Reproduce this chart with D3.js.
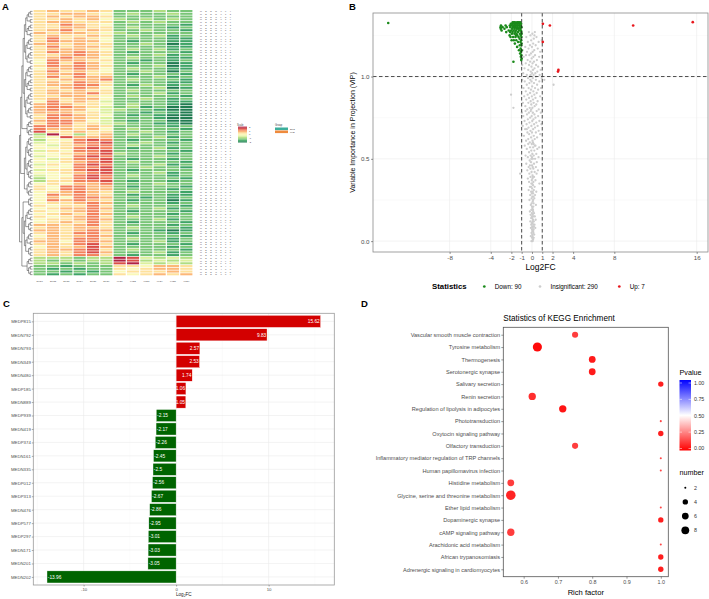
<!DOCTYPE html>
<html><head><meta charset="utf-8">
<script src="https://cdn.jsdelivr.net/npm/d3@7/dist/d3.min.js"></script>
<style>
html,body{margin:0;padding:0;background:#fff}
svg{display:block}
</style></head><body>
<svg id="fig" width="709" height="599"></svg>
<script>
const FONT = '"Liberation Sans", Arial, Helvetica, sans-serif';

/* ---------------- Panel A data (heatmap) ---------------- */
const heatSamples = ["EPS1","EPS2","EPS3","EPS4","EPS5","EPS6","KLB1","KLB2","KLB3","KLB4","KLB5","KLB6"];
// each row: 12 colour codes 0..a (0 = dark green, 5 = pale yellow, a = dark red)
const heatRows = [
"676676222322","667765232232","676776222222","667675323232","677666232322","668765222221",
"667766232212","678676223221","767765322222","676676232312","686765222211","687775212211",
"776766223201","686776222211","677765232312","687876212221","667876222312","678775232211",
"587766221212","586875212201","687876222301","577875232211","686765223202","677866212221",
"686877222312","667778232221","676876222211","677886213212","667875222301","676766232222",
"677786222312","667765232221","676775223212","586764222211","787665232210","788764231200",
"787754322100","777664221210","688765212100","687764222100","788754212200","688664322110",
"887676222212","877675232221","966766223212","3a6367232222","459777222312","355898212221",
"456889223212","546788232222","556898212312","465889222221","556789322212","455898222322",
"546889212212","556789232221","465898222312","555889223221","466899212222","556789222312",
"455898232212","356898222221","366889212212","565778222322","658877212221","658877222212",
"567876232221","587876212211","575887221212","587876212201","566787222212","656686232221",
"567787222312","656786212221","567687222212","656786232222","566787222312","567686212221",
"776786222212","676776232221","776787222101","676886212212","576787222221","676886232212",
"775887222312","676896212221","576797222212","677896232221","676897222312","676886212212",
"333233a94343","323233a93434","3323239a4343","221222665776","212122656776","221212566676",
"212122656767"];
const heatIds = ("MEDN004 MEDN012 MEDP939 MEDN019 MEDN027 MEDN033 MEDN041 MEDN058 MEDN419 MEDN066 " +
"MEDN072 MEDN085 MEDN093 MEDP374 MEDN104 MEDN112 MEDN127 MEDN138 MEDN161 MEDN145 MEDN153 MEDN168 " +
"MEDN177 MEDN335 MEDN184 MEDN196 MEDN208 MEDN215 MEDP012 MEDN223 MEDN236 MEDN244 MEDN259 MEDP313 " +
"MEDN263 MEDN278 MEDN286 MEDN291 MEDN476 MEDN307 MEDN314 MEDN322 MEDN338 MEDP577 MEDN356 MEDN367 " +
"MEDN372 MEDN385 MEDP297 MEDN398 MEDN403 MEDN427 MEDN436 MEDN171 MEDN445 MEDN458 MEDN463 MEDN489 " +
"MEDN201 MEDN497 MEDN502 MEDN516 MEDN525 MEDN202 MEDN531 MEDN547 MEDN553 MEDN568 MEDN574 MEDN589 " +
"MEDN596 MEDP021 MEDP038 MEDP046 MEDP059 MEDP067 MEDP083 MEDP098 MEDP116 MEDP124 MEDP137 MEDP149 " +
"MEDP162 MEDP178 MEDP203 MEDP219 MEDP226 MEDP241 MEDP258 MEDP264 " +
"MEDN792 MEDN793 MEDP815 MEDN349 MEDN480 MEDP185 MEDN889").split(" ");
const heatScaleTicks = ["2","1","0","-1","-2"];
const heatGroups = ["EPS","KLB"];
const heatGroupColors = ["#3BAE9B","#EF8A3C"];
const dendroGroups = [40,6,16,6,4,18,3,4];

/* ---------------- Panel B data (volcano) ---------------- */
const volcanoBreaks = [-8,-4,-2,-1,0,1,2,4,8,16];
const upPts = [[15.62,1.33],[9.83,1.31],[2.57,1.04],[2.53,1.03],[1.74,1.31],[1.06,1.32],[1.05,1.21]];
const downPts = [[-13.96,1.325],[-3.05,1.30],[-3.03,1.29],[-3.01,1.31],[-2.95,1.28],[-2.86,1.30],[-2.67,1.29],
[-2.56,1.31],[-2.5,1.27],[-2.45,1.30],[-2.26,1.28],[-2.17,1.25],[-2.15,1.31],
[-2.10,1.30],[-2.05,1.32],[-2.02,1.28],[-1.98,1.31],[-1.95,1.26],[-1.92,1.29],[-1.90,1.32],[-1.88,1.27],
[-1.85,1.30],[-1.83,1.24],[-1.80,1.31],[-1.78,1.28],[-1.76,1.22],[-1.74,1.30],[-1.72,1.32],[-1.70,1.26],
[-1.68,1.29],[-1.66,1.20],[-1.64,1.31],[-1.62,1.27],[-1.60,1.24],[-1.58,1.30],[-1.56,1.32],[-1.54,1.28],
[-1.52,1.22],[-1.50,1.26],[-1.48,1.31],[-1.46,1.29],[-1.44,1.18],[-1.42,1.25],[-1.40,1.30],[-1.38,1.32],
[-1.36,1.27],[-1.34,1.21],[-1.32,1.29],[-1.30,1.24],[-1.28,1.31],[-1.26,1.16],[-1.24,1.28],[-1.22,1.32],
[-1.20,1.23],[-1.19,1.30],[-1.18,1.19],[-1.16,1.26],[-1.15,1.14],[-1.14,1.29],[-1.12,1.31],[-1.11,1.21],
[-1.10,1.17],[-1.09,1.25],[-1.08,1.12],[-1.07,1.28],[-1.06,1.15],[-1.05,1.32],[-1.05,1.22],[-1.04,1.19],
[-1.04,1.10],[-1.03,1.27],[-1.03,1.13],[-1.02,1.24],[-1.02,1.30],[-1.01,1.16],[-1.01,1.20],[-1.00,1.11],
[-1.00,1.26],[-1.8,1.09],[-2.12,1.27],[-2.08,1.24],[-1.97,1.22],[-1.87,1.33],[-1.75,1.33],[-1.65,1.33],
[-1.55,1.25],[-1.45,1.33],[-1.35,1.33],[-1.25,1.33],[-1.13,1.33]];
const insigPts = [
[-0.85,1.02],[-0.80,1.12],[-0.72,1.05],[-0.65,1.18],[-0.60,1.08],[-0.55,1.24],[-0.50,1.01],[-0.48,1.15],
[-0.42,1.10],[-0.40,1.21],[-0.36,1.04],[-0.33,1.17],[-0.30,1.27],[-0.28,1.07],[-0.25,1.13],[-0.22,1.00],
[-0.20,1.19],[-0.18,1.09],[-0.15,1.25],[-0.12,1.03],[-0.10,1.14],[-0.08,1.22],[-0.05,1.06],[-0.03,1.11],
[0.00,1.18],[0.02,1.02],[0.04,1.26],[0.06,1.08],[0.08,1.15],[0.10,1.04],[0.12,1.20],[0.14,1.12],
[0.16,1.01],[0.18,1.23],[0.20,1.09],[0.22,1.16],[0.25,1.05],[0.28,1.27],[0.30,1.13],[0.33,1.02],
[0.36,1.19],[0.40,1.07],[0.44,1.24],[0.48,1.10],[0.52,1.03],[0.56,1.17],[0.60,1.06],[0.65,1.21],
[0.70,1.12],[0.75,1.01],[0.80,1.15],[0.85,1.04],[0.90,1.09],[0.95,1.22],[-0.90,1.16],[-0.95,1.07],
[-0.58,1.13],[0.38,1.00],[-0.13,1.01],[0.24,1.25],
[-0.95,0.98],[-0.88,0.84],[-0.82,0.93],[-0.75,0.88],[-0.70,0.97],[-0.64,0.82],[-0.60,0.91],[-0.55,0.86],
[-0.50,0.95],[-0.46,0.80],[-0.42,0.89],[-0.38,0.99],[-0.35,0.84],[-0.32,0.93],[-0.28,0.87],[-0.25,0.96],
[-0.22,0.81],[-0.19,0.90],[-0.16,0.98],[-0.13,0.85],[-0.10,0.92],[-0.07,0.83],[-0.04,0.97],[-0.01,0.88],
[0.02,0.94],[0.05,0.81],[0.08,0.99],[0.11,0.86],[0.14,0.91],[0.17,0.84],[0.20,0.96],[0.23,0.89],
[0.26,0.82],[0.30,0.93],[0.34,0.87],[0.38,0.98],[0.42,0.83],[0.46,0.90],[0.50,0.95],[0.55,0.85],
[0.60,0.92],[0.66,0.80],[0.72,0.97],[0.80,0.88],[0.88,0.93],[0.95,0.99],[-2.03,0.89],[-1.80,0.81],
[2.10,0.95],[1.20,0.98],
[-0.98,0.78],[-0.90,0.70],[-0.84,0.76],[-0.78,0.64],[-0.72,0.73],[-0.66,0.68],[-0.62,0.79],[-0.57,0.61],
[-0.52,0.71],[-0.48,0.77],[-0.44,0.66],[-0.40,0.74],[-0.36,0.62],[-0.33,0.69],[-0.30,0.78],[-0.27,0.65],
[-0.24,0.72],[-0.21,0.60],[-0.18,0.75],[-0.15,0.67],[-0.12,0.79],[-0.09,0.63],[-0.06,0.70],[-0.03,0.76],
[0.00,0.66],[0.03,0.73],[0.06,0.61],[0.09,0.78],[0.12,0.68],[0.15,0.74],[0.18,0.64],[0.21,0.71],
[0.24,0.77],[0.27,0.62],[0.30,0.69],[0.34,0.75],[0.38,0.66],[0.42,0.72],[0.46,0.79],[0.50,0.63],
[0.55,0.70],[0.60,0.76],[0.65,0.67],[0.72,0.73],[0.80,0.65],[0.86,0.78],[0.92,0.71],[-0.08,0.80],
[0.10,0.60],[-0.50,0.68],
[-0.70,0.58],[-0.62,0.52],[-0.55,0.47],[-0.50,0.56],[-0.45,0.43],[-0.40,0.51],[-0.36,0.59],[-0.32,0.45],
[-0.28,0.54],[-0.25,0.41],[-0.22,0.49],[-0.19,0.57],[-0.16,0.44],[-0.13,0.52],[-0.10,0.48],[-0.07,0.55],
[-0.04,0.42],[-0.02,0.59],[0.01,0.46],[0.04,0.53],[0.06,0.40],[0.09,0.50],[0.12,0.57],[0.14,0.44],
[0.17,0.52],[0.20,0.47],[0.23,0.55],[0.26,0.42],[0.30,0.50],[0.34,0.58],[0.38,0.45],[0.42,0.53],
[0.47,0.48],[0.52,0.56],[0.58,0.43],[0.64,0.51],[0.70,0.57],[-1.15,0.41],[0.00,0.51],[0.08,0.45],
[-0.05,0.50],[0.16,0.59],[-0.20,0.46],[0.28,0.58],[0.45,0.41],
[-0.40,0.38],[-0.32,0.31],[-0.28,0.36],[-0.24,0.25],[-0.20,0.33],[-0.17,0.28],[-0.14,0.39],[-0.11,0.22],
[-0.08,0.30],[-0.06,0.35],[-0.04,0.26],[-0.02,0.37],[0.00,0.21],[0.02,0.32],[0.04,0.27],[0.06,0.38],
[0.08,0.24],[0.10,0.34],[0.12,0.29],[0.14,0.36],[0.16,0.23],[0.18,0.31],[0.20,0.39],[0.23,0.26],
[0.26,0.33],[0.30,0.28],[0.34,0.37],[0.38,0.22],[0.42,0.30],[0.72,0.35],[0.05,0.20],[-0.01,0.29],
[0.11,0.25],[0.03,0.35],[-0.09,0.33],[0.07,0.30],[0.13,0.21],[0.09,0.39],[-0.03,0.23],[0.15,0.27],
[-0.20,0.18],[-0.16,0.12],[-0.13,0.16],[-0.10,0.08],[-0.08,0.14],[-0.06,0.19],[-0.04,0.05],[-0.02,0.11],
[0.00,0.17],[0.01,0.02],[0.02,0.09],[0.03,0.14],[0.04,0.06],[0.05,0.19],[0.06,0.12],[0.07,0.03],
[0.08,0.16],[0.09,0.08],[0.10,0.13],[0.11,0.01],[0.12,0.18],[0.13,0.10],[0.14,0.05],[0.15,0.15],
[0.16,0.07],[0.18,0.12],[0.20,0.17],[0.22,0.04],[0.25,0.10],[0.28,0.15],[0.32,0.08],[0.36,0.13],
[-0.05,0.00],[0.00,0.07],[0.06,0.00],[0.03,0.04],[-0.01,0.15],[0.09,0.01],[0.12,0.06],[-0.11,0.03],
[0.17,0.02],[0.07,0.11],[0.19,0.09],[-0.07,0.10],[0.10,0.19]];

/* ---------------- Panel C data (top 20 bar) ---------------- */
const barIds = ["MEDP815","MEDN792","MEDN793","MEDN349","MEDN480","MEDP185","MEDN889","MEDP939","MEDN419","MEDP374",
"MEDN161","MEDN335","MEDP012","MEDP313","MEDN476","MEDP577","MEDP297","MEDN171","MEDN201","MEDN202"];
const barFC = [15.62,9.83,2.57,2.53,1.74,1.06,1.05,-2.15,-2.17,-2.26,-2.45,-2.5,-2.56,-2.67,-2.86,-2.95,-3.01,-3.03,-3.05,-13.96];
const barTicks = [-10,0,10];

/* ---------------- Panel D data (KEGG) ---------------- */
const keggTerms = ["Vascular smooth muscle contraction","Tyrosine metabolism","Thermogenesis","Serotonergic synapse",
"Salivary secretion","Renin secretion","Regulation of lipolysis in adipocytes","Phototransduction",
"Oxytocin signaling pathway","Olfactory transduction","Inflammatory mediator regulation of TRP channels",
"Human papillomavirus infection","Histidine metabolism","Glycine, serine and threonine metabolism",
"Ether lipid metabolism","Dopaminergic synapse","cAMP signaling pathway","Arachidonic acid metabolism",
"African trypanosomiasis","Adrenergic signaling in cardiomyocytes"];
const keggRich = [0.75,0.64,0.8,0.8,1,0.625,0.714,1,1,0.75,1,1,0.5625,0.5625,1,1,0.5625,1,1,1];
const keggNumber = [5,11,6,6,4,7,7,2,4,5,2,2,6,12,2,4,7,2,4,4];
const keggP = [0.12,0.02,0.05,0.05,0.06,0.09,0.04,0.14,0.06,0.12,0.14,0.14,0.12,0.07,0.14,0.06,0.12,0.14,0.06,0.06];
const keggXTicks = [0.6,0.7,0.8,0.9,1.0];
const pLegendTicks = [0,0.25,0.5,0.75,1];
const numLegend = [2,4,6,8];

/* ======================================================= */
const svg = d3.select("#fig").style("font-family", FONT);
const txt = (g, x, y, s, fs, opt = {}) => g.append("text").attr("x", x).attr("y", y).text(s)
  .style("font-size", fs + "px").attr("fill", opt.fill || "#000")
  .attr("text-anchor", opt.anchor || "start").attr("font-weight", opt.bold ? "bold" : null);

/* ---------- Panel letters ---------- */
txt(svg, 2, 10, "A", 9.5, {bold: true});
txt(svg, 349, 10, "B", 9.5, {bold: true});
txt(svg, 3, 307, "C", 9.5, {bold: true});
txt(svg, 361, 307, "D", 9.5, {bold: true});

/* ---------- Panel A ---------- */
{
  const gA = svg.append("g");
  const hx = d3.scaleBand().domain(d3.range(heatSamples.length)).range([33, 193]);
  const hy = d3.scaleBand().domain(d3.range(heatRows.length)).range([10, 276]);
  const code = ch => parseInt(ch, 16);
  const soften = d3.interpolateRgb.gamma(1);
  const hcol = v => soften(d3.interpolateRdYlGn(1 - v / 10), "#ffffff")(0.13);
  heatRows.forEach((row, r) => {
    for (let c = 0; c < heatSamples.length; c++) {
      gA.append("rect").attr("x", hx(c) + 0.6).attr("y", hy(r))
        .attr("width", hx.bandwidth() - 1.2).attr("height", hy.bandwidth() - 0.7)
        .attr("fill", hcol(code(row[c])));
    }
  });
  // row labels
  heatIds.forEach((id, r) => {
    txt(gA, 200, hy(r) + hy.bandwidth() / 2 + 0.8, id, 2.2, {fill: "#555"})
      .attr("textLength", 31).attr("lengthAdjust", "spacing");
  });
  // column labels
  heatSamples.forEach((s, c) => txt(gA, hx(c) + hx.bandwidth() / 2, 281.5, s, 2.4, {fill: "#555", anchor: "middle"}));
  // dendrogram
  const leafY = i => hy(i) + hy.bandwidth() / 2;
  const dNodes = [];
  const join = (L, R) => { const n = {y: (L.y + R.y) / 2, h: Math.max(L.h, R.h) + 1, L, R}; dNodes.push(n); return n; };
  const mk = (a, b) => b - a === 1 ? {y: leafY(a), h: 0} : join(mk(a, a + Math.ceil((b - a) / 2)), mk(a + Math.ceil((b - a) / 2), b));
  let st = 0;
  let roots = dendroGroups.map(s => { const r = mk(st, st + s); st += s; return r; });
  while (roots.length > 1) {
    const nx = [];
    for (let i = 0; i < roots.length; i += 2) nx.push(i + 1 < roots.length ? join(roots[i], roots[i + 1]) : roots[i]);
    roots = nx;
  }
  const maxH = d3.max(dNodes, d => d.h);
  const dx = d3.scalePow().exponent(0.8).domain([0, maxH]).range([32.5, 19.5]);
  dNodes.forEach(n => {
    gA.append("path").attr("fill", "none").attr("stroke", "#333").attr("stroke-width", 0.5)
      .attr("d", `M${dx(n.L.h)},${n.L.y}H${dx(n.h)}V${n.R.y}H${dx(n.R.h)}`);
  });
  // legend: colour scale
  const lg = gA.append("g");
  txt(lg, 237, 125.5, "Scale", 2.6, {fill: "#444"});
  const ly = d3.scaleLinear().domain([0, 10]).range([142, 127]);
  d3.range(0, 10.01, 0.5).forEach(v => lg.append("rect").attr("x", 238).attr("y", ly(v) - 0.4)
    .attr("width", 9).attr("height", 0.9).attr("fill", hcol(v)));
  heatScaleTicks.forEach((t, i) => txt(lg, 249, ly(10 - i * 2.5) + 0.8, t, 2.4, {fill: "#444"}));
  // legend: groups
  txt(lg, 275, 125.5, "Group", 2.6, {fill: "#444"});
  heatGroups.forEach((g, i) => {
    lg.append("rect").attr("x", 275).attr("y", 127.5 + i * 3).attr("width", 13).attr("height", 2.6).attr("fill", heatGroupColors[i]);
    txt(lg, 290, 129.8 + i * 3, g, 2.4, {fill: "#444"});
  });
}

/* ---------- Panel B ---------- */
{
  const gB = svg.append("g");
  const L = 373, R = 708, T = 13, B = 252;
  const bx = d3.scaleLinear().domain([-15.44, 17.1]).range([L, R]);
  const by = d3.scaleLinear().domain([-0.066, 1.386]).range([B, T]);
  // grid
  [0.25, 0.75, 1.25].forEach(v => gB.append("line").attr("x1", L).attr("x2", R).attr("y1", by(v)).attr("y2", by(v)).attr("stroke", "#F3F3F3").attr("stroke-width", 0.4));
  [0, 0.5, 1].forEach(v => gB.append("line").attr("x1", L).attr("x2", R).attr("y1", by(v)).attr("y2", by(v)).attr("stroke", "#EBEBEB").attr("stroke-width", 0.6));
  volcanoBreaks.forEach(v => gB.append("line").attr("y1", T).attr("y2", B).attr("x1", bx(v)).attr("x2", bx(v)).attr("stroke", "#EBEBEB").attr("stroke-width", 0.6));
  // points
  const pt = (data, col, r) => gB.append("g").selectAll("circle").data(data).join("circle")
    .attr("cx", d => bx(d[0])).attr("cy", d => by(d[1])).attr("r", r).attr("fill", col);
  pt(insigPts, "#CDCDCD", 1.15);
  pt(downPts, "#1B8A1B", 1.3);
  pt(upPts, "#E8161C", 1.35);
  // dashed thresholds
  [-1, 1].forEach(v => gB.append("line").attr("x1", bx(v)).attr("x2", bx(v)).attr("y1", T).attr("y2", B)
    .attr("stroke", "#222").attr("stroke-width", 0.8).attr("stroke-dasharray", "3.5,2.5"));
  gB.append("line").attr("x1", L).attr("x2", R).attr("y1", by(1)).attr("y2", by(1))
    .attr("stroke", "#222").attr("stroke-width", 0.8).attr("stroke-dasharray", "3.5,2.5");
  gB.append("rect").attr("x", L).attr("y", T).attr("width", R - L).attr("height", B - T)
    .attr("fill", "none").attr("stroke", "#8A8A8A").attr("stroke-width", 0.8);
  // axes
  const ax = gB.append("g").attr("transform", `translate(0,${B})`)
    .call(d3.axisBottom(bx).tickValues(volcanoBreaks).tickSize(2).tickPadding(1.5).tickFormat(d => String(d)));
  const ay = gB.append("g").attr("transform", `translate(${L},0)`)
    .call(d3.axisLeft(by).tickValues([0, 0.5, 1]).tickSize(2).tickPadding(1.5).tickFormat(d3.format(".1f")));
  [ax, ay].forEach(a => { a.select(".domain").remove();
    a.selectAll(".tick line").attr("stroke", "#333").attr("stroke-width", 0.5);
    a.selectAll(".tick text").attr("fill", "#4D4D4D").style("font-size", "6.2px").style("font-family", FONT); });
  txt(gB, (L + R) / 2, 269.5, "Log2FC", 8.5, {anchor: "middle"});
  txt(gB, 0, 0, "Variable Importance in Projection (VIP)", 7, {anchor: "middle"})
    .attr("transform", `translate(354.5,${(T + B) / 2}) rotate(-90)`);
  // legend
  txt(gB, 432, 289, "Statistics", 7.8, {bold: true});
  const leg = [["Down: " + downPts.length, "#1B8A1B", 484.3], ["Insignificant: " + insigPts.length, "#CDCDCD", 540], ["Up: " + upPts.length, "#E8161C", 619.3]];
  leg.forEach(([t, c, x]) => {
    gB.append("circle").attr("cx", x).attr("cy", 286.5).attr("r", 1.35).attr("fill", c);
    txt(gB, x + 10.5, 288.7, t, 6.3);
  });
}

/* ---------- Panel C ---------- */
{
  const gC = svg.append("g");
  const L = 33.3, R = 334.3, T = 313.3, B = 585;
  const cx = d3.scaleLinear().domain([-15.44, 17.1]).range([L, R]);
  const cy = d3.scalePoint().domain(barIds).range([T, B]).padding(0.6);
  const bh = cy.step() * 0.9;
  [-15, -5, 5, 15].forEach(v => gC.append("line").attr("x1", cx(v)).attr("x2", cx(v)).attr("y1", T).attr("y2", B).attr("stroke", "#F4F4F4").attr("stroke-width", 0.4));
  barTicks.forEach(v => gC.append("line").attr("x1", cx(v)).attr("x2", cx(v)).attr("y1", T).attr("y2", B).attr("stroke", "#EBEBEB").attr("stroke-width", 0.6));
  barIds.forEach(id => gC.append("line").attr("x1", L).attr("x2", R).attr("y1", cy(id)).attr("y2", cy(id)).attr("stroke", "#EBEBEB").attr("stroke-width", 0.6));
  barIds.forEach((id, i) => {
    const v = barFC[i];
    gC.append("rect").attr("x", Math.min(cx(0), cx(v))).attr("y", cy(id) - bh / 2)
      .attr("width", Math.abs(cx(v) - cx(0))).attr("height", bh)
      .attr("fill", v > 0 ? "#D30000" : "#006400").attr("stroke", "#fff").attr("stroke-width", 0.4);
    txt(gC, v > 0 ? cx(v) - 0.8 : cx(v) + 0.8, cy(id) + 1.7, String(v), 4.8, {fill: "#fff", anchor: v > 0 ? "end" : "start"});
  });
  gC.append("rect").attr("x", L).attr("y", T).attr("width", R - L).attr("height", B - T)
    .attr("fill", "none").attr("stroke", "#9A9A9A").attr("stroke-width", 0.8);
  const ax = gC.append("g").attr("transform", `translate(0,${B})`)
    .call(d3.axisBottom(cx).tickValues(barTicks).tickSize(1.5).tickPadding(1).tickFormat(d => String(d)));
  const ay = gC.append("g").attr("transform", `translate(${L},0)`)
    .call(d3.axisLeft(cy).tickSize(1.5).tickPadding(1));
  [ax, ay].forEach(a => { a.select(".domain").remove();
    a.selectAll(".tick line").attr("stroke", "#333").attr("stroke-width", 0.4);
    a.selectAll(".tick text").attr("fill", "#4D4D4D").style("font-size", "4.3px").style("font-family", FONT); });
  const xl = txt(gC, (L + R) / 2, 595.5, "Log", 4.6, {anchor: "middle", fill: "#222"});
  xl.append("tspan").text("2").attr("dy", 1).style("font-size", "3.4px");
  xl.append("tspan").text("FC").attr("dy", -1);
}

/* ---------- Panel D ---------- */
{
  const gD = svg.append("g");
  const L = 503.3, R = 668.3, T = 327.3, B = 576.7;
  const kx = d3.scaleLinear().domain([0.5406, 1.0219]).range([L, R]);
  const ky = d3.scalePoint().domain(keggTerms).range([T, B]).padding(0.6);
  const pcol = d3.scaleLinear().domain([0, 0.5, 1]).range(["#FF0000", "#FFFFFF", "#0000FF"]);
  const rad = n => 0.78 * (1.3 + 4.8 * Math.sqrt(Math.max(0, n - 2) / 10));
  gD.append("rect").attr("x", L).attr("y", T).attr("width", R - L).attr("height", B - T)
    .attr("fill", "#fff").attr("stroke", "#555").attr("stroke-width", 0.8);
  keggTerms.forEach((t, i) => gD.append("circle").attr("cx", kx(keggRich[i])).attr("cy", ky(t))
    .attr("r", rad(keggNumber[i])).attr("fill", pcol(keggP[i])));
  const ax = gD.append("g").attr("transform", `translate(0,${B})`)
    .call(d3.axisBottom(kx).tickValues(keggXTicks).tickSize(2).tickPadding(1.5).tickFormat(d3.format(".1f")));
  const ay = gD.append("g").attr("transform", `translate(${L},0)`)
    .call(d3.axisLeft(ky).tickSize(2).tickPadding(1.2));
  [ax, ay].forEach(a => { a.select(".domain").remove();
    a.selectAll(".tick line").attr("stroke", "#333").attr("stroke-width", 0.5);
    a.selectAll(".tick text").attr("fill", "#4D4D4D").style("font-family", FONT); });
  ax.selectAll(".tick text").style("font-size", "5.4px");
  ay.selectAll(".tick text").style("font-size", "5.6px");
  txt(gD, L, 321, "Statistics of KEGG Enrichment", 8.2);
  txt(gD, (L + R) / 2, 594.5, "Rich factor", 7.6, {anchor: "middle"});
  // Pvalue legend
  txt(gD, 679.5, 374.5, "Pvalue", 7.2);
  const defs = svg.append("defs");
  const grad = defs.append("linearGradient").attr("id", "pgrad").attr("x1", 0).attr("x2", 0).attr("y1", 1).attr("y2", 0);
  pLegendTicks.forEach(v => grad.append("stop").attr("offset", v).attr("stop-color", pcol(v)));
  const py = d3.scaleLinear().domain([0, 1]).range([448.5, 383]);
  gD.append("rect").attr("x", 679.5).attr("y", 380).attr("width", 11.5).attr("height", 70.5).attr("fill", "url(#pgrad)");
  pLegendTicks.forEach(v => {
    gD.append("line").attr("x1", 679.5).attr("x2", 682).attr("y1", py(v)).attr("y2", py(v)).attr("stroke", "#fff").attr("stroke-width", 0.5);
    gD.append("line").attr("x1", 688.5).attr("x2", 691).attr("y1", py(v)).attr("y2", py(v)).attr("stroke", "#fff").attr("stroke-width", 0.5);
    txt(gD, 694, py(v) + 1.9, d3.format(".2f")(v), 5.3, {fill: "#333"});
  });
  // number legend
  txt(gD, 679.5, 475, "number", 7.2);
  numLegend.forEach((n, i) => {
    const y = 487.7 + i * 14.2;
    gD.append("circle").attr("cx", 685.3).attr("cy", y).attr("r", rad(n)).attr("fill", "#000");
    txt(gD, 694, y + 1.9, String(n), 5.3, {fill: "#333"});
  });
}
</script></body></html>
